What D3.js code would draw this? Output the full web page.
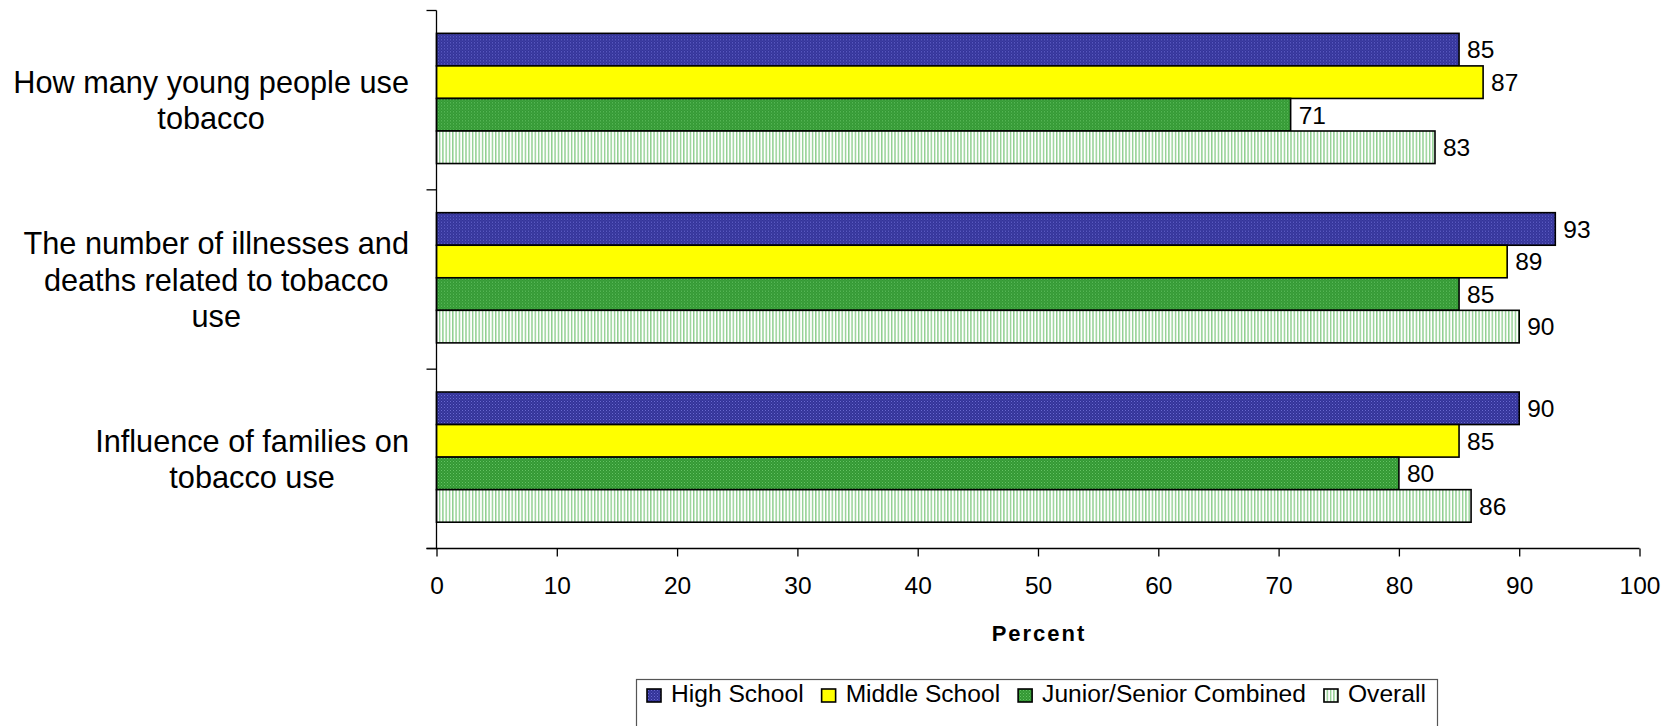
<!DOCTYPE html>
<html>
<head>
<meta charset="utf-8">
<script src="https://cdn.jsdelivr.net/npm/d3@7"></script>
<style>
  html, body { margin: 0; padding: 0; background: #fff; }
  svg { display: block; font-family: "Liberation Sans", Arial, sans-serif; }
</style>
</head>
<body>
<svg id="chart" width="1675" height="726"></svg>
<script>
// ---- data ----
const categories = [
  "How many young people use tobacco",
  "The number of illnesses and deaths related to tobacco use",
  "Influence of families on tobacco use"
];
const categoryLines = [
  ["How many young people use", "tobacco"],
  ["The number of illnesses and", "deaths related to tobacco", "use"],
  ["Influence of families on", "tobacco use"]
];
const seriesNames = ["High School", "Middle School", "Junior/Senior Combined", "Overall"];
const highSchool   = [85, 93, 90];
const middleSchool = [87, 89, 85];
const juniorSenior = [71, 85, 80];
const overall      = [83, 90, 86];
const seriesValues = [highSchool, middleSchool, juniorSenior, overall];
const xTicks = [0, 10, 20, 30, 40, 50, 60, 70, 80, 90, 100];
const axisTitle = "Percent";

// ---- layout ----
const svg = d3.select("#chart");
const plotLeft = 436.5, plotRight = 1639.5, plotTop = 10.5, plotBottom = 548.5;

const x = d3.scaleLinear().domain([0, 100]).range([plotLeft, plotRight]);
const y0 = d3.scaleBand().domain(categories).range([plotTop, plotBottom])
  .paddingInner(0.274).paddingOuter(0.137).align(0.465);
const y1 = d3.scaleBand().domain(seriesNames).range([0, y0.bandwidth()]);

// ---- patterns ----
const defs = svg.append("defs");
const pHS = defs.append("pattern").attr("id", "pHS").attr("patternUnits", "userSpaceOnUse")
  .attr("width", 3).attr("height", 3);
pHS.append("rect").attr("width", 3).attr("height", 3).attr("fill", "#333399");
pHS.append("rect").attr("x", 0).attr("y", 0).attr("width", 1).attr("height", 1).attr("fill", "#6a6ad0");
pHS.append("rect").attr("x", 1.5).attr("y", 1.5).attr("width", 1).attr("height", 1).attr("fill", "#5555bb");

const pMS = defs.append("pattern").attr("id", "pMS").attr("patternUnits", "userSpaceOnUse")
  .attr("width", 4).attr("height", 4);
pMS.append("rect").attr("width", 4).attr("height", 4).attr("fill", "#ffff00");

const pJS = defs.append("pattern").attr("id", "pJS").attr("patternUnits", "userSpaceOnUse")
  .attr("width", 3).attr("height", 3);
pJS.append("rect").attr("width", 3).attr("height", 3).attr("fill", "#339933");
pJS.append("rect").attr("x", 0).attr("y", 0).attr("width", 1).attr("height", 1).attr("fill", "#66c266");
pJS.append("rect").attr("x", 1.5).attr("y", 1.5).attr("width", 1).attr("height", 1).attr("fill", "#55b055");

const pOV = defs.append("pattern").attr("id", "pOV").attr("patternUnits", "userSpaceOnUse")
  .attr("width", 3.3).attr("height", 4);
pOV.append("rect").attr("width", 3.3).attr("height", 4).attr("fill", "#ffffff");
pOV.append("rect").attr("x", 0).attr("y", 0).attr("width", 1.4).attr("height", 4).attr("fill", "#8fcf8f");

const fills = { "High School": "url(#pHS)", "Middle School": "url(#pMS)",
                "Junior/Senior Combined": "url(#pJS)", "Overall": "url(#pOV)" };

// ---- bars ----
const groups = svg.append("g").selectAll("g")
  .data(categories).join("g")
  .attr("transform", d => `translate(0,${y0(d)})`);

groups.each(function(cat, ci) {
  const g = d3.select(this);
  const rows = seriesNames.map((s, si) => ({ s, v: seriesValues[si][ci] }));
  g.selectAll("rect").data(rows).join("rect")
    .attr("x", x(0))
    .attr("y", d => y1(d.s))
    .attr("width", d => x(d.v) - x(0))
    .attr("height", y1.bandwidth())
    .attr("fill", d => fills[d.s])
    .attr("stroke", "#000")
    .attr("stroke-width", 1.6);
  g.selectAll("text.val").data(rows).join("text")
    .attr("class", "val")
    .attr("x", d => x(d.v) + 8)
    .attr("y", d => y1(d.s) + y1.bandwidth() / 2)
    .attr("dy", "0.36em")
    .attr("font-size", 24.5)
    .attr("fill", "#000")
    .text(d => d.v);
});

// ---- x axis ----
const xAxis = svg.append("g").attr("transform", `translate(0,${plotBottom})`)
  .call(d3.axisBottom(x).tickValues(xTicks).tickSize(8).tickPadding(20).tickFormat(d3.format("d")));
xAxis.select(".domain").remove();
xAxis.selectAll(".tick line").attr("stroke", "#000").attr("stroke-width", 1.3);
xAxis.selectAll(".tick text").attr("font-size", 24.5).attr("fill", "#000")
  .attr("font-family", "'Liberation Sans', Arial, sans-serif");
svg.append("line").attr("x1", plotLeft - 10).attr("x2", plotRight)
  .attr("y1", plotBottom).attr("y2", plotBottom).attr("stroke", "#000").attr("stroke-width", 1.3);

// ---- y axis ----
svg.append("line").attr("x1", plotLeft).attr("x2", plotLeft)
  .attr("y1", plotTop).attr("y2", plotBottom).attr("stroke", "#000").attr("stroke-width", 1.3);
const boundaries = d3.range(categories.length + 1).map(i => plotTop + i * y0.step());
svg.append("g").selectAll("line").data(boundaries).join("line")
  .attr("x1", plotLeft - 10).attr("x2", plotLeft)
  .attr("y1", d => d).attr("y2", d => d)
  .attr("stroke", "#000").attr("stroke-width", 1.3);

// ---- category labels ----
const lineH = 36.3;
categories.forEach((cat, ci) => {
  const lines = categoryLines[ci];
  const cy = plotTop + (ci + 0.5) * y0.step();
  const t = svg.append("text").attr("font-size", 30.7).attr("fill", "#000").attr("text-anchor", "middle");
  const spans = lines.map((ln, li) => t.append("tspan")
    .attr("y", cy + (li - (lines.length - 1) / 2) * lineH)
    .attr("dy", "0.36em").text(ln));
  const maxW = d3.max(spans, s => s.node().getComputedTextLength());
  const cx = 409 - maxW / 2;
  spans.forEach(s => s.attr("x", cx));
});

// ---- axis title ----
svg.append("text").attr("x", x(50) + 1).attr("y", 641)
  .attr("text-anchor", "middle").attr("font-size", 22).attr("font-weight", "bold")
  .attr("letter-spacing", 2).attr("fill", "#000").text(axisTitle);

// ---- legend ----
const legend = svg.append("g");
legend.append("rect").attr("x", 636.5).attr("y", 679.5).attr("width", 801).attr("height", 60)
  .attr("fill", "#fff").attr("stroke", "#555").attr("stroke-width", 1.2);
let lx = 647;
seriesNames.forEach(s => {
  legend.append("rect").attr("x", lx).attr("y", 689).attr("width", 14).attr("height", 13)
    .attr("fill", fills[s]).attr("stroke", "#000").attr("stroke-width", 1.6);
  const t = legend.append("text").attr("x", lx + 24).attr("y", 701.5)
    .attr("font-size", 24.6).attr("fill", "#000").text(s);
  lx += 24 + t.node().getComputedTextLength() + 18;
});
</script>
</body>
</html>
